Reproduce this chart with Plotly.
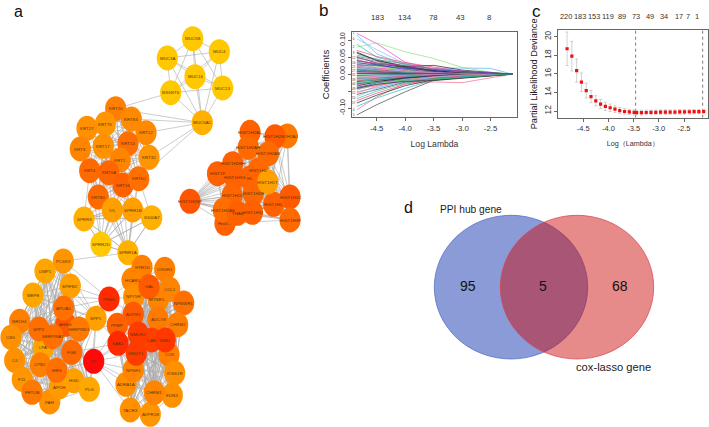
import itertools
import plotly.graph_objects as go

# ---------- panel a: network ----------
muc_labels = ["MUC5B","MUC4","MUC3A","MUC16","MUC13","B3GNT6","MUC5AC"]
muc_x = [192.7,219.3,167.3,195,222.7,170.7,202.3]
muc_y = [38.7,51.7,58,76.7,88,92.7,122.7]
muc_colors = ["#FFC800"]*6 + ["#FFB000"]

krt_labels = ["KRT20","KRT83","KRT75","KRT27","KRT12","KRT3","KRT17","KRT14","KRT1","KRT32","KRT4","KRT6A","KRT16","KRT6C","KRT80"]
krt_x = [115.7,131.3,105.3,87,146,80.3,103.3,128,120.3,149,89.7,108.7,123,138.7,98.3]
krt_y = [108.7,119,124,128.3,132.7,149,146.3,143.7,160,157.3,170.7,172.7,185,178.7,197]
krt_colors = ["#FF7F00","#FF8A00","#FF9500","#FF9000","#FF8A00","#FF8500","#FF9000","#FF6E00","#FF8500","#FF9500","#FF6A00","#FF6600","#FF6000","#FF7000","#FF6A00"]

sprr_labels = ["IVL","SPRR1B","S100A7","SPRR3","SPRR2D","SPRR1A"]
sprr_x = [112.3,132.7,151.7,84,101,128]
sprr_y = [210,210,217.7,219,244.3,252.7]
sprr_colors = ["#FFA000","#FFA000","#FFB000","#FFB000","#FFC800","#FFB000"]

his_labels = ["H2AJ","HIST1H2AL","HIST1H2BO","HIST1H2AH","HIST2H2AB","HIST1H2BH","HIST1F","HIST1H1","HIST1H3G","HL","HIST1H2BP","HIST1H1D","HIST1H2B","HIST1H3C","HIST1H2-","Hist1...","HIST1H3F","HIST1H2AE","THAB","HIST1H3J","HIST1H1T"]
his_x = [287.3,250,275,248.3,268.3,232.7,217.5,258.3,234.5,250,190,232,253.3,290,273.7,225,290,223.3,237.5,252.5,267.7]
his_y = [136,132.3,136.7,147.3,153.7,163.7,173.7,170,177.3,178,201.3,195.7,193.3,197,204.3,223.3,220,210,213.3,212.3,182]
his_colors = ["#FF7800","#FF6000","#FF5A00","#FF6A00","#FF6A00","#FF6000","#FF6000","#FF6A00","#FF6000","#FF6400","#FF5500","#FF6600","#FF6600","#FF5A00","#FF6000","#FF6000","#FF6A00","#FF6E00","#FF6000","#FF6000","#FFA000"]
label_nudge = {"H2AJ":5}

coag_labels = ["PCSK9","DMP1","SPIFB2","MEPE","NR1H4","C8G","LPA","C6","F11","PAH","FETUB","APOH","HGD","PLG","SPP1","CPB2","HRG","FGB","AHSG","APOA5","SERPINA1","SPP2","SERPIND1"]
coag_x = [63.3,45,70.3,33,19.7,11,43.3,14.7,22.3,49.7,32,59.3,73.7,89.3,96,40.3,56.7,71.7,65.7,63.7,52.7,39,79]
coag_y = [261,271,286,295,321.3,337.3,347.7,360.3,379.3,402,392.3,387,380.7,389.3,318.3,364.7,370.3,352.3,324.3,308,336.7,329,329]
coag_colors = ["#FF9500","#FFA500","#FFA000","#FFA500","#FF8000","#FF9000","#FFA500","#FF9000","#FF9500","#FF9000","#FF7800","#FF9A00","#FFA000","#FFA800","#FFA000","#FF8000","#FF7000","#FF6A00","#FF5500","#FF7000","#FF7000","#FF6E00","#FF7800"]

gpcr_labels = ["PENK","F2","HTR1D","OXGR1","HCAR1","CCL1","NPY5R","MTNR1...","NPBWR1","GAL","ADCY8","CHRM2","CCK","KISS1R","EDN3","AVPR1B","TACR3","CHRM1","ADRA1A","NPSR1","AGTR2","PPBP","SAA1","CAE","NMU","GNGT1","NMUR2"]
gpcr_x = [109,93.7,142,164.7,132,169.7,133.7,158.3,183.7,149,158,177.7,169,174.7,172.3,150.3,130.3,154.3,126,133.3,133.3,117.3,118,151.7,165.3,136.3,138.3]
gpcr_y = [299,361.3,267.3,269.3,280,289.3,296.7,299.3,303,286.7,319,324.7,354.7,373,395.3,414.3,410,392.7,384.3,370,314.3,325.3,343.3,340,340,353.3,334]
gpcr_colors = ["#FF2A00","#FF0A0A","#FF7F00","#FF7F00","#FF8500","#FF8500","#FF8F00","#FF8500","#FF7000","#FF5A00","#FF7A00","#FF8000","#FF8000","#FF9000","#FF9000","#FF9500","#FF9000","#FF8500","#FF8F00","#FF8500","#FF5A00","#FF6000","#FF2A00","#FF4000","#FF3800","#FF3C00","#FF3C00"]

bridge_edges = [("B3GNT6","KRT20"),("MUC5AC","KRT20"),("MUC5AC","KRT83"),("MUC5AC","KRT12"),("MUC5AC","KRT32"),("MUC5AC","KRT6C"),
    ("PCSK9","SPRR1A"),("PCSK9","PENK"),("SPIFB2","PENK"),("MEPE","PENK"),("SPP1","PENK"),("SPP1","F2"),("AHSG","PENK"),("APOA5","PENK"),
    ("SERPIND1","PENK"),("FGB","F2"),("PLG","F2"),("HRG","F2"),("F2","SAA1"),("F2","NPSR1"),("F2","ADRA1A"),("F2","TACR3"),("F2","GNGT1"),
    ("F2","NMUR2"),("F2","PPBP"),("F2","CHRM1"),("PENK","AGTR2"),("PENK","NPY5R"),("PENK","HCAR1"),("SAA1","SPP1"),("SAA1","FGB"),("PPBP","SPP1"),("PPBP","SERPIND1")]

# ---------- panel b: coefficient paths ----------
path_x = [-4.85,-4.5,-4.0,-3.5,-3.0,-2.5,-2.12]
path_01 = [.120,.090,.035,.014,.008,.003,0]
path_02 = [.080,.092,.066,.046,.020,.006,0]
path_03 = [.115,.060,.026,.017,.018,.017,0]
path_04 = [-.105,-.067,-.027,-.023,-.025,-.012,0]
path_05 = [-.120,-.090,-.052,-.018,-.010,-.004,0]
path_06 = [.104,.072,.030,.010,.005,.002,0]
path_07 = [.088,.050,.028,.015,.006,.001,0]
path_08 = [.070,.052,.034,.020,.008,.002,0]
path_09 = [.062,.041,.024,.011,.003,0,0]
path_10 = [.056,.045,.018,.007,.002,0,0]
path_11 = [.050,.033,.022,.010,.004,0,0]
path_12 = [.047,.038,.016,.005,0,0,0]
path_13 = [.043,.027,.014,.006,.002,0,0]
path_14 = [.040,.030,.020,.008,.001,0,0]
path_15 = [.036,.024,.011,.003,0,0,0]
path_16 = [.033,.028,.013,.004,0,0,0]
path_17 = [.030,.019,.009,.005,.001,0,0]
path_18 = [.028,.022,.012,.002,0,0,0]
path_19 = [.025,.016,.007,.002,0,0,0]
path_20 = [.023,.018,.010,.003,0,0,0]
path_21 = [.020,.013,.005,.001,0,0,0]
path_22 = [.018,.015,.008,.004,.001,0,0]
path_23 = [.016,.010,.004,0,0,0,0]
path_24 = [.014,.012,.006,.002,0,0,0]
path_25 = [.012,.008,.003,.001,0,0,0]
path_26 = [.010,.009,.005,0,0,0,0]
path_27 = [.008,.005,.002,0,0,0,0]
path_28 = [.006,.004,.001,0,0,0,0]
path_29 = [.004,.003,0,0,0,0,0]
path_30 = [.002,.001,0,0,0,0,0]
path_31 = [-.002,-.001,0,0,0,0,0]
path_32 = [-.004,-.002,-.001,0,0,0,0]
path_33 = [-.006,-.005,-.002,0,0,0,0]
path_34 = [-.008,-.004,-.003,-.001,0,0,0]
path_35 = [-.010,-.008,-.004,-.002,0,0,0]
path_36 = [-.012,-.006,-.005,-.001,0,0,0]
path_37 = [-.014,-.011,-.006,-.003,-.001,0,0]
path_38 = [-.016,-.009,-.007,-.002,0,0,0]
path_39 = [-.018,-.014,-.008,-.004,-.002,0,0]
path_40 = [-.020,-.012,-.006,-.003,0,0,0]
path_41 = [-.022,-.017,-.010,-.005,-.001,0,0]
path_42 = [-.025,-.015,-.009,-.004,-.002,0,0]
path_43 = [-.028,-.021,-.012,-.006,-.003,-.001,0]
path_44 = [-.030,-.018,-.010,-.007,-.002,0,0]
path_45 = [-.032,-.025,-.014,-.008,-.004,-.001,0]
path_46 = [-.035,-.022,-.011,-.006,-.001,0,0]
path_47 = [-.038,-.030,-.016,-.009,-.005,-.002,0]
path_48 = [-.040,-.026,-.013,-.005,-.002,0,0]
path_49 = [-.044,-.034,-.019,-.011,-.007,-.003,0]
path_50 = [-.048,-.029,-.015,-.008,-.003,0,0]
path_51 = [-.052,-.040,-.022,-.012,-.006,-.002,0]
path_52 = [-.056,-.036,-.017,-.007,-.002,0,0]
path_53 = [-.060,-.046,-.024,-.013,-.008,-.003,0]
path_54 = [-.066,-.042,-.020,-.009,-.004,-.001,0]
path_55 = [-.072,-.050,-.026,-.014,-.009,-.004,0]
path_56 = [-.078,-.056,-.030,-.012,-.005,-.001,0]
path_57 = [-.085,-.062,-.034,-.016,-.011,-.005,0]
path_58 = [-.095,-.070,-.042,-.017,-.008,-.002,0]
path_59 = [.065,.040,.022,.026,.012,.005,0]
path_60 = [.052,.042,.031,.014,.010,.002,0]
path_61 = [.038,.032,.025,.017,.009,.003,0]
path_62 = [-.042,-.030,-.021,-.019,-.012,-.006,0]
path_63 = [-.026,-.024,-.018,-.015,-.010,-.004,0]
path_64 = [.027,.026,.017,.012,.007,.002,0]
all_paths = [path_01,path_02,path_03,path_04,path_05,path_06,path_07,path_08,path_09,path_10,path_11,path_12,path_13,path_14,path_15,path_16,
             path_17,path_18,path_19,path_20,path_21,path_22,path_23,path_24,path_25,path_26,path_27,path_28,path_29,path_30,path_31,path_32,
             path_33,path_34,path_35,path_36,path_37,path_38,path_39,path_40,path_41,path_42,path_43,path_44,path_45,path_46,path_47,path_48,
             path_49,path_50,path_51,path_52,path_53,path_54,path_55,path_56,path_57,path_58,path_59,path_60,path_61,path_62,path_63,path_64]
path_colors = ["#ee40d0","#8fe27a","#58b4f0","#f56a8a","#444444","#8fb8ff","#30c0a0","#e84a70","#222222","#2fb6c8","#222222","#7a7a7a","#e040c0","#222222","#40c070","#2a3fb0"]
b_top_labels = ["183","134","78","43","8"]
b_top_x = [-4.48,-4.0,-3.5,-3.03,-2.53]
b_yticks = [-0.10,-0.05,0.00,0.05,0.10]
b_yticktext = ["-0.10","","0.00","0.05","0.10"]
lambda_ticks = [-4.5,-4.0,-3.5,-3.0,-2.5]
lambda_ticktext = ["-4.5","-4.0","-3.5","-3.0","-2.5"]

# ---------- panel c: cross validation ----------
cv_x = [-4.82,-4.725,-4.63,-4.535,-4.44,-4.345,-4.25,-4.155,-4.06,-3.965,-3.87,-3.775,-3.68,-3.585,-3.49,-3.44,-3.345,-3.25,-3.155,-3.06,-2.965,-2.87,-2.775,-2.68,-2.585,-2.49,-2.395,-2.3,-2.205,-2.11]
cv_y = [18.7,17.9,16.35,15.1,14.2,13.55,13.1,12.75,12.5,12.35,12.2,12.05,11.95,11.9,11.85,11.83,11.83,11.84,11.85,11.86,11.87,11.88,11.88,11.89,11.9,11.9,11.92,11.93,11.94,11.95]
cv_err = [1.8,1.6,1.25,1.0,.8,.65,.55,.5,.45,.4,.36,.33,.3,.28,.27,.26,.26,.26,.25,.25,.25,.25,.24,.24,.24,.24,.23,.23,.22,.22]
cv_lambda_min = -3.46
cv_lambda_1se = -2.13
c_top_labels = ["220","183","153","119","89","73","49","34","17","7","1"]
c_top_x = [-4.85,-4.57,-4.29,-4.0,-3.74,-3.45,-3.17,-2.89,-2.6,-2.43,-2.24]
c_yticks = [12,14,16,18,20]

# ---------- panel d: Venn ----------
venn_counts = ["95","5","68"]
venn_count_x = [468.3,542.7,619.7]
venn_set_names = ["PPI hub gene","cox-lasso gene"]
venn_set_name_x = [471.3,613]
venn_set_name_y = [209,366.7]
venn_set_name_sizes = [10.2,11.2]
venn_centres = [511,577]

# ---------- assemble ----------
labels = muc_labels+krt_labels+sprr_labels+his_labels+coag_labels+gpcr_labels
xs = muc_x+krt_x+sprr_x+his_x+coag_x+gpcr_x
ys = muc_y+krt_y+sprr_y+his_y+coag_y+gpcr_y
colors = muc_colors+krt_colors+sprr_colors+his_colors+coag_colors+gpcr_colors
pos = {l:(a,b) for l,a,b in zip(labels,xs,ys)}

edges = list(bridge_edges)
edges += list(itertools.combinations(muc_labels,2))
edges += list(itertools.combinations(krt_labels,2))
edges += list(itertools.combinations(his_labels,2))
edges += list(itertools.combinations(coag_labels,2))
edges += list(itertools.combinations(gpcr_labels[2:],2))
edges += [(s,k) for s in sprr_labels for k in ["KRT80","KRT16","KRT6C","KRT4","KRT6A","IVL","SPRR1B","S100A7","SPRR3","SPRR2D","SPRR1A"] if s!=k]
ex,ey=[],[]
for a,b in edges:
    ex += [pos[a][0],pos[b][0],None]
    ey += [pos[a][1],pos[b][1],None]

fig = go.Figure()
fig.add_trace(go.Scatter(x=ex,y=ey,mode="lines",line=dict(color="#a9a9a9",width=0.6),hoverinfo="skip",showlegend=False,xaxis="x",yaxis="y"))

shapes=[]
RX,RY=10.6,12.5
for x,y,c in zip(xs,ys,colors):
    shapes.append(dict(type="circle",xref="x",yref="y",x0=x-RX,x1=x+RX,y0=y-RY,y1=y+RY,fillcolor=c,line=dict(width=0),layer="above"))
for cx,fc,lc in zip(venn_centres,["rgba(66,94,192,0.62)","rgba(203,11,11,0.48)"],["rgba(80,105,195,0.9)","rgba(215,70,80,0.9)"]):
    shapes.append(dict(type="circle",xref="x",yref="y",x0=cx-76.7,x1=cx+76.7,y0=215.3,y1=359,fillcolor=fc,line=dict(color=lc,width=0.8),layer="above"))

ann=[]
for l,x,y in zip(labels,xs,ys):
    ann.append(dict(x=x+label_nudge.get(l,0),y=y,xref="x",yref="y",text=l,showarrow=False,font=dict(size=4.4,color="#5a3600",family="Liberation Sans")))
for t,x,y,s in [("a",18,11,16),("b",323,10,17),("c",536.7,11.5,17),("d",408.3,207,16)]:
    ann.append(dict(x=x,y=y,xref="x",yref="y",text=t,showarrow=False,font=dict(size=s,color="#111",family="Liberation Sans")))
for t,x in zip(venn_counts,venn_count_x):
    ann.append(dict(x=x,y=286,xref="x",yref="y",text=t,showarrow=False,font=dict(size=14,color="#111",family="Liberation Sans")))
for t,x,y,s in zip(venn_set_names,venn_set_name_x,venn_set_name_y,venn_set_name_sizes):
    ann.append(dict(x=x,y=y,xref="x",yref="y",text=t,showarrow=False,font=dict(size=s,color="#222",family="Liberation Sans")))

# panel b traces
for i,p in enumerate(all_paths):
    fig.add_trace(go.Scatter(x=path_x,y=p,mode="lines",line=dict(color=path_colors[i%len(path_colors)],width=0.7),showlegend=False,hoverinfo="skip",xaxis="x2",yaxis="y2"))
# small variable numbers at the left end of the paths (only those with room)
num_y,num_t,last=[],[],None
for i,p in sorted(enumerate(all_paths),key=lambda q:q[1][0]):
    if last is None or p[0]-last>=0.012:
        num_y.append(p[0]); num_t.append(str(i+1)); last=p[0]
fig.add_trace(go.Scatter(x=[-4.905]*len(num_y),y=num_y,mode="text",text=num_t,
                         textfont=dict(size=3,color="#333",family="Liberation Sans"),showlegend=False,hoverinfo="skip",xaxis="x2",yaxis="y2"))
for t,x in zip(b_top_labels,b_top_x):
    ann.append(dict(x=x,y=1.0,xref="x2",yref="y2 domain",yshift=8,yanchor="bottom",text=t,showarrow=False,font=dict(size=7.8,color="#333",family="Liberation Sans")))

# panel c traces
for vx in [cv_lambda_min,cv_lambda_1se]:
    fig.add_trace(go.Scatter(x=[vx,vx],y=[11.28,20.72],mode="lines",line=dict(color="#444",width=0.7,dash="dot"),showlegend=False,hoverinfo="skip",xaxis="x3",yaxis="y3"))
fig.add_trace(go.Scatter(x=cv_x,y=cv_y,mode="markers",marker=dict(color="#f01010",size=3.2,symbol="square"),
    error_y=dict(type="data",array=cv_err,color="#c4c4c4",thickness=0.8,width=1.5),showlegend=False,hoverinfo="skip",xaxis="x3",yaxis="y3"))
for t,x in zip(c_top_labels,c_top_x):
    ann.append(dict(x=x,y=1.0,xref="x3",yref="y3 domain",yshift=7,yanchor="bottom",text=t,showarrow=False,font=dict(size=7.4,color="#333",family="Liberation Sans")))

W,H=709,427
def dom(a,b,total): return [a/total,b/total]
frame=dict(showline=True,mirror=True,linecolor="#666",linewidth=0.8,ticks="outside",ticklen=3,tickwidth=0.7,tickcolor="#666",showgrid=False,zeroline=False)
def tickfont(s): return dict(size=s,color="#333",family="Liberation Sans")
fig.update_layout(
    width=W,height=H,margin=dict(l=0,r=0,t=0,b=0),paper_bgcolor="white",plot_bgcolor="rgba(0,0,0,0)",showlegend=False,
    xaxis=dict(range=[0,W],domain=[0,1],visible=False,fixedrange=True),
    yaxis=dict(range=[H,0],domain=[0,1],visible=False,fixedrange=True),
    xaxis2=dict(frame,domain=dom(351.7,517.3,W),range=[-4.94,-2.03],anchor="y2",tickvals=lambda_ticks,ticktext=lambda_ticktext,tickfont=tickfont(7.8),
                title=dict(text="Log Lambda",standoff=9,font=dict(size=8.6,color="#333",family="Liberation Sans"))),
    yaxis2=dict(frame,domain=[1-117.3/H,1-31.7/H],range=[-.127,.125],anchor="x2",tickvals=b_yticks,ticktext=b_yticktext,tickangle=-90,tickfont=tickfont(7.2),
                title=dict(text="Coefficients",standoff=6,font=dict(size=9.5,color="#222",family="Liberation Sans"))),
    xaxis3=dict(frame,domain=dom(558,707.7,W),range=[-5.0,-2.03],anchor="y3",tickvals=lambda_ticks,ticktext=lambda_ticktext,tickfont=tickfont(7.5),
                title=dict(text="Log（Lambda）",standoff=9,font=dict(size=7.2,color="#333",family="Liberation Sans"))),
    yaxis3=dict(frame,domain=[1-117.7/H,1-30/H],range=[11.28,20.72],anchor="x3",tickvals=c_yticks,tickangle=-90,tickfont=tickfont(8.4),
                title=dict(text="Partial Likelihood Deviance",standoff=3,font=dict(size=9.2,color="#222",family="Liberation Sans"))),
    shapes=shapes,annotations=ann,
)
fig.write_html("out.html",config=dict(displayModeBar=False),post_script="document.body.style.margin='0';document.body.style.overflow='hidden';")
